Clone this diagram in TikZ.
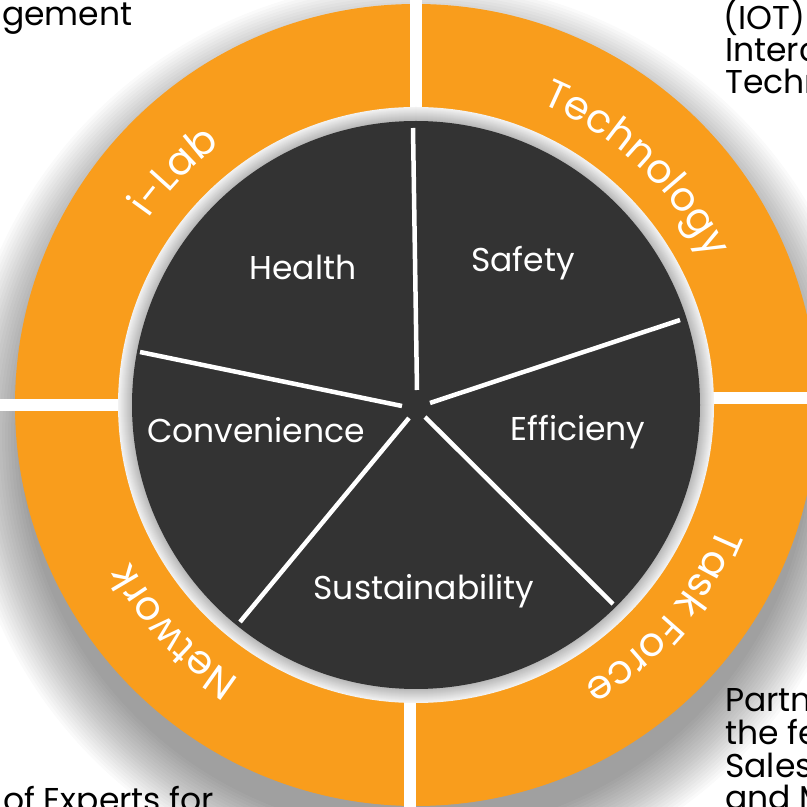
\documentclass[tikz,border=0pt]{standalone}
\usepackage{fontspec}
\setmainfont{Poppins}
\usetikzlibrary{decorations.text}
\definecolor{ringorange}{RGB}{249,157,28}
\definecolor{darkdisk}{RGB}{51,51,51}
\newcommand\ringfnt{\fontsize{40}{44}\selectfont}
\begin{document}
\begin{tikzpicture}[x=1pt,y=1pt,
  spoke/.style={white, line width=4.5},
  gapline/.style={white, line width=12},
  lbl/.style={text=white, inner sep=0, font=\fontsize{33}{36}\selectfont},
  side/.style={text=black, inner sep=0, anchor=base west, font=\fontsize{33}{36}\selectfont},
  ringtext/.style={decorate, decoration={text along path, text align=center, text color=white, text={|\ringfnt|#1}}}]
\useasboundingbox (0,0) rectangle (807,807);
\clip (0,0) rectangle (807,807);
\fill[white] (0,0) rectangle (807,807);
\coordinate (C) at (416,402);
% drop shadow of the ring
\foreach \k in {0,...,20} \fill[black,opacity=0.021] (416,370) circle[radius=396+3*\k];
% orange ring
\fill[ringorange] (C) circle[radius=401];
\draw[gapline] (416,402) -- (416,815);
\draw[gapline] (410,402) -- (410,-10);
\draw[gapline] (416,402) -- (-10,402);
\draw[gapline] (416,409) -- (820,409);
% light grey band
\foreach \k in {0,...,14}{\pgfmathsetmacro\p{5+1.7*\k}\fill[black!\p] (C) circle[radius=298-\k];}
% dark disk
\fill[darkdisk] (C) circle[radius=284];
% spokes
\coordinate (t1) at (417,417); \coordinate (t2) at (413,679);
\coordinate (r1) at (430,404); \coordinate (r2) at (680,487);
\coordinate (l1) at (402,401); \coordinate (l2) at (140,455);
\coordinate (bl1) at (409,389); \coordinate (bl2) at (240,185);
\coordinate (br1) at (425,390); \coordinate (br2) at (613,203);
\draw[spoke] (t1) -- (t2);
\draw[spoke] (r1) -- (r2);
\draw[spoke] (l1) -- (l2);
\draw[spoke] (bl1) -- (bl2);
\draw[spoke] (br1) -- (br2);
% inner labels
\node[lbl] (health) at (303,540) {Health};
\node[lbl] (safety) at (523,544) {Safety};
\node[lbl] (conv) at (256,377) {Convenience};
\node[lbl] (eff) at (578,375) {Efficieny};
\node[lbl] (sust) at (424,216) {Sustainability};
% ring labels
\path[ringtext=Technology] ([shift={(90:326)}]C) arc[start angle=90, end angle=4, radius=326];
\path[ringtext=i-Lab] ([shift={(179:326)}]C) arc[start angle=179, end angle=93, radius=326];
\path[ringtext=Task Force] ([shift={(2:326)}]C) arc[start angle=2, end angle=-83, radius=326];
\path[ringtext=Network] ([shift={(266:326)}]C) arc[start angle=266, end angle=180, radius=326];
% side texts
\node[side] (s1) at (2,781) {gement};
\node[side] (s2) at (723,777) {(IOT)};
\node[side] (s3) at (725,745) {Interc};
\node[side] (s4) at (725,713) {Techn};
\node[side] (s5) at (725,95) {Partn};
\node[side] (s6) at (725,63) {the fe};
\node[side] (s7) at (725,30) {Sales};
\node[side] (s8) at (725,-2) {and M};
\node[side] (s9) at (3,-5) {of Experts for};
\end{tikzpicture}
\end{document}
